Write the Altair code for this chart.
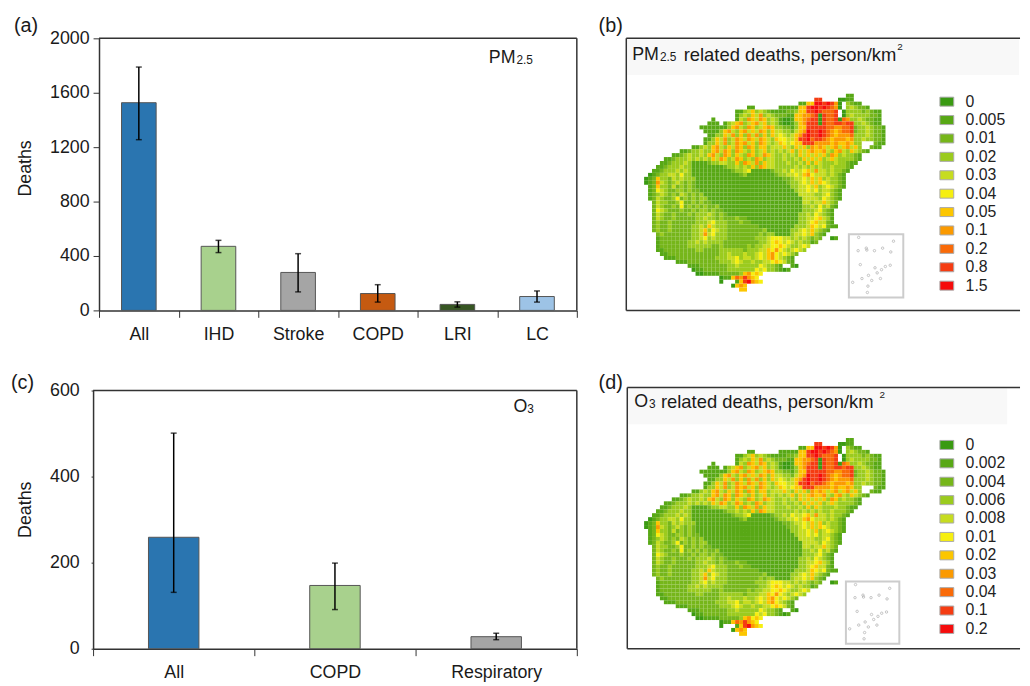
import altair as alt
import pandas as pd

FONT = "Liberation Sans"

PM_CATS = ["All", "IHD", "Stroke", "COPD", "LRI", "LC"]
PM_VALS = [1527, 471, 279, 124, 44, 102]
PM_LOW = [1255, 425, 136, 61, 24, 61]
PM_HIGH = [1789, 515, 417, 189, 63, 143]
PM_COLORS = ["#2a75b0", "#a8d18d", "#a5a5a5", "#c55a11", "#375623", "#9dc3e6"]

O3_CATS = ["All", "COPD", "Respiratory"]
O3_VALS = [259, 147, 28]
O3_LOW = [131, 91, 21]
O3_HIGH = [501, 199, 36]
O3_COLORS = ["#2a75b0", "#a8d18d", "#a5a5a5"]

PALETTE = ["#3a9a12", "#58a815", "#76b61a", "#9bcb1e", "#c6dc20", "#f6ef10",
           "#fcc600", "#fb9a00", "#f96a08", "#f53c12", "#f50c0c"]
PM_LABELS = ["0", "0.005", "0.01", "0.02", "0.03", "0.04", "0.05", "0.1", "0.2", "0.8", "1.5"]
O3_LABELS = ["0", "0.002", "0.004", "0.006", "0.008", "0.01", "0.02", "0.03", "0.04", "0.1", "0.2"]
CLASS_CODES = "0123456789a"

MAP_ROWS = [
    "51:11",
    "43:99|49:0011",
    "39:1166aa9a97|49:0|51:3211",
    "26:11|34:11111669aa9a987|49:0|51:343221",
    "23:11346343211|34:112236699a98889|50:0333323211",
    "23:13436473432|34:2211667789|44:0|45:9889|50:0343333221",
    "17:1|23:14376476343|34:1001667899|44:0|45:9889|49:0|50:8733432211",
    "16:111|20:13467346746343|34:1001367999|44:0|45:98899899|53:3343211",
    "14:11111|19:113674376346763|34:3221366999|44:998877889|53:23343221",
    "15:111|18:1367436746476364|34:4332467a99|44:a98767889|53:23343221",
    "16:113364736374736364|34:5434679a99|44:a98767778|53:33343221",
    "15:1136473476476476436|34:5544699a89|44:987677767|53:33433221",
    "15:1336473476746376434|34:6545669997|44:777676676|53:33|58:211",
    "12:1134367436476376366344|34:4643646376|44:76467467463|57:211",
    "9:1123343367476376436346343|34:4346364676|44:6743674364321",
    "7:11234 33436 74376 36437 63476 43|34:3434364646|44:46376343321",
    "5:11233 34343 43647 63476 34376 3443|34:3433436464|44:63464333321",
    "4:11233343|12:11112|17:33443 36376 47364 43|34:3343343636|44:4333433211",
    "3:112333433|12:111111112|21:33434 36376 443|34:3333434343|44:433433321",
    "2:1123334343|12:1111111111|22:23345|27:111112|33:33435445647|44:44343321",
    "1:01233443533|12:1111111111112|25:3|26:1111111|33:23344546754|44:4434321",
    "0:0126332434333|13:1111111111111|26:111111111|35:223445464|44:6343321",
    "0:0127432343232|13:11111 11111 11111 11111 111|36:23345464|44:6543321",
    "1:126332423232|13:11111 11111 11111 11111 1111|37:3344546|44:3454321",
    "1:1254322332322|14:11111 11111 11111 11111 1111|38:344545|44:344321",
    "1:12343232432323|15:11111 11111 11111 11111 1111|39:44443|44:345321",
    "1:124322352323233|16:11111 11111 11111 11111 1111|40:4444|44:354321",
    "2:243322352232322|17:11111 11111 11111 11111 111|40:4434|44:46432",
    "2:24322325232323223|19:11111 11111 11111 11111 1|40:3343|44:53421",
    "2:254322232232332322|20:11111 11111 11111 11111|40:33345321",
    "2:2432232223233343232|21:11111 11111 11111 111|39:334354321",
    "2:243223222223343323222322|26:11111 11111 111|39:334456431",
    "2:2322322222 2333453332 22322|27:11111 11111 11|39:334564421",
    "2:23223 22222 33436 43332 22222 22|29:11111 1111|38:33346545211",
    "2:23223 22222 33463 54332 22222 2223|31:111111|37:3345464321",
    "3:23222 22223 34745 33322 22222 23233|33:1111|37:344546321",
    "3:12222 22223 34534 33322 22222 33345 55443 43432 32|47:01",
    "3:12222 22233 43433 33222 22222 23345 65454 34331 2",
    "3:12222 22233 33332 23222 22232 33445 56543 3454",
    "3:11222 22222 33222 23333 33233 34465 75434 543",
    "4:11222 22222 22222 33433 34334 54675 45432",
    "5:11122 22222 22233 34453 44345 46754 321",
    "8:11122 22222 23334 54334 33445 65421",
    "11:11122 22222 33433 33354 3321|37:10",
    "12:01122 22223 33333 35453 32101",
    "13:00111 12222 23675 65",
    "19:01168 79765",
    "19:0|23:169a765",
    "22:0676",
    "24:66",
]

ISLANDS_X = [18, 82, 17, 32, 47, 62, 77, 21, 76, 48, 60, 36, 24, 52, 58, 7, 42, 35, 34, 67, 33]
ISLANDS_Y = [5, 11, 26, 22, 26, 22, 28, 48, 49, 53, 56, 65, 70, 61, 70, 76, 73, 82, 92, 51, 25]


def cells(labels):
    out = []
    for r, line in enumerate(MAP_ROWS):
        for seg in line.split("|"):
            start, codes = seg.split(":")
            for i, ch in enumerate(codes.replace(" ", "")):
                c = int(start) + i
                out.append(dict(col=c, col2=c + 1, row=r, row2=r + 1,
                                label=labels[CLASS_CODES.index(ch)]))
    return pd.DataFrame(out)


def text(txt, x, y, size=18.0, color="#1a1a1a"):
    return alt.Chart(pd.DataFrame({"t": [txt]})).mark_text(
        align="left", baseline="middle", font=FONT, fontSize=size, color=color
    ).encode(text="t:N", x=alt.value(x), y=alt.value(y))


def rule(x, x2, y, y2):
    return alt.Chart(pd.DataFrame({"t": [0]})).mark_rule(color="#333333", strokeWidth=1.5).encode(
        x=alt.value(x), x2=alt.value(x2), y=alt.value(y), y2=alt.value(y2))


def bars(cats, vals, low, high, colors, width, height, left, top, ymax, yvals, bar_w,
         tick, pad, title_x, title_y, extras):
    df = pd.DataFrame(dict(cat=cats, val=vals, low=low, high=high, color=colors))
    x = alt.X("cat:N", sort=cats, title=None,
              scale=alt.Scale(paddingInner=0, paddingOuter=0, range=[left, width]),
              axis=alt.Axis(labelAngle=0, labelFontSize=18, labelFont=FONT, labelColor="#1a1a1a",
                            tickBand="extent", tickSize=7, tickColor="#333333", domainColor="#333333",
                            domainWidth=1.5, labelPadding=8, grid=False))
    y_scale = alt.Scale(domain=[0, ymax], range=[height, top], nice=False)
    y_axis = alt.Axis(values=yvals, format="d", title="Deaths", titleFont=FONT, titleFontSize=18,
                      titleFontWeight="normal", offset=-left, titleX=title_x, titleY=title_y,
                      titleColor="#1a1a1a", labelFontSize=18, labelFont=FONT, labelPadding=pad,
                      labelColor="#1a1a1a", tickSize=tick, tickColor="#333333", domainColor="#333333",
                      domainWidth=1.5, grid=False)
    base = alt.Chart(df)
    layers = [
        base.mark_bar(size=bar_w, stroke="#555555", strokeWidth=1).encode(
            x=x, y=alt.Y("val:Q", scale=y_scale, axis=y_axis),
            color=alt.Color("color:N", scale=None)),
        base.mark_rule(color="black", strokeWidth=1.5).encode(x=x, y=alt.Y("low:Q", scale=y_scale, axis=y_axis), y2="high:Q"),
        base.mark_tick(size=6, thickness=1.5, color="black").encode(x=x, y=alt.Y("low:Q", scale=y_scale, axis=y_axis)),
        base.mark_tick(size=6, thickness=1.5, color="black").encode(x=x, y=alt.Y("high:Q", scale=y_scale, axis=y_axis)),
        rule(left, width, top, top),
        rule(width, width, top, height),
    ] + extras
    return alt.layer(*layers).properties(width=width, height=height, view=alt.ViewBackground(stroke="transparent"))


def map_panel(labels, w, h, left, ox, oy, inset, band_w, band_h, legend_y, extras):
    x_s = alt.Scale(domain=[-ox / 4, (w - ox) / 4], range=[0, w], nice=False, zero=False)
    y_s = alt.Scale(domain=[-oy / 4, (h - oy) / 4], range=[0, h], nice=False, zero=False)
    path = "M-1,-0.65H1V0.65H-1Z"
    band = alt.Chart(pd.DataFrame({"t": [0]})).mark_rect(color="#f8f8f8").encode(
        x=alt.value(left + 1), x2=alt.value(band_w), y=alt.value(1), y2=alt.value(band_h))
    map_layer = alt.Chart(cells(labels)).mark_rect().encode(
        x=alt.X("col:Q", scale=x_s, axis=None), x2="col2:Q",
        y=alt.Y("row:Q", scale=y_s, axis=None), y2="row2:Q",
        color=alt.Color("label:N", scale=alt.Scale(domain=labels, range=PALETTE),
                        legend=alt.Legend(title=None, orient="none", legendX=316, legendY=legend_y,
                                          symbolType=path, symbolSize=196, symbolStrokeColor="#aaaaaa",
                                          symbolStrokeWidth=1, symbolOpacity=1, labelFont=FONT, labelFontSize=16,
                                          labelColor="#222222", labelOffset=11, rowPadding=2.6,
                                          values=labels)))
    x0, x1, y0, y1 = inset
    inset_box = alt.Chart(pd.DataFrame(dict(a=[x0], b=[x1], c=[y0], d=[y1]))).mark_rect(
        fill="white", stroke="#cccccc", strokeWidth=2).encode(
        x=alt.X("a:Q", scale=x_s, axis=None), x2="b:Q",
        y=alt.Y("c:Q", scale=y_s, axis=None), y2="d:Q")
    isl = pd.DataFrame(dict(ix=[x0 + v * (x1 - x0) / 100 for v in ISLANDS_X],
                            iy=[y0 + v * (y1 - y0) / 100 for v in ISLANDS_Y]))
    islands = alt.Chart(isl).mark_point(size=6, color="#aaaaaa", strokeWidth=1).encode(
        x=alt.X("ix:Q", scale=x_s, axis=None), y=alt.Y("iy:Q", scale=y_s, axis=None))
    layers = [band, map_layer, inset_box, islands,
              rule(left, w, 0, 0), rule(left, w, h, h), rule(left, left, 0, h)] + extras
    return alt.layer(*layers).properties(width=w, height=h, view=alt.ViewBackground(stroke="transparent"))


panel_a = bars(PM_CATS, PM_VALS, PM_LOW, PM_HIGH, PM_COLORS, 489, 275, 6, 0, 2000,
               [0, 400, 800, 1200, 1600, 2000], 35, 6, 4, -65, 131,
               [text("(a)", -80, -12, 20), text("PM", 400, 20), text("2.5", 428, 22, 12)])
panel_c = bars(O3_CATS, O3_VALS, O3_LOW, O3_HIGH, O3_COLORS, 489, 264, 0, 3, 600,
               [0, 200, 400, 600], 51, 2, 12, -59, 123,
               [text("(c)", -83, -5, 20), text("O", 425, 20), text("3", 439, 22, 12)])
panel_b = map_panel(PM_LABELS, 398, 275, 0, 18, 56, (51.75, 65.5, 35.5, 51.5), 397, 37, 56,
                    [text("(b)", -28, -12, 20), text("PM", 6, 17), text("2.5", 34, 19, 12),
                     text("related deaths, person/km", 58, 17, 18.6), text("2", 274, 9, 10)])
panel_d = map_panel(O3_LABELS, 398, 264, 1, 18, 51, (51, 64.5, 36.25, 52), 385, 37, 50,
                    [text("(d)", -28, -5, 20), text("O", 8, 15), text("3", 23, 17, 12),
                     text("related deaths, person/km", 35, 15, 18.6), text("2", 256, 8, 10)])

chart = alt.concat(panel_a, panel_b, panel_c, panel_d, columns=2,
                   spacing=alt.RowColnumber(row=78, column=50), bounds="flush").resolve_scale(
    color="independent").resolve_legend(color="independent").properties(
    padding={"left": 2, "top": 4, "right": 0, "bottom": 0}
).configure_view(stroke="transparent")

chart.save("out.html", embed_options={"renderer": "svg", "actions": False})
